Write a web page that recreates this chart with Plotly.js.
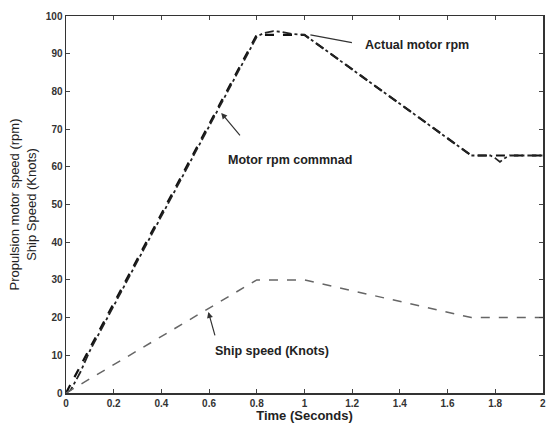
<!DOCTYPE html>
<html><head><meta charset="utf-8">
<script src="https://cdn.plot.ly/plotly-3.0.1.min.js"></script>
<style>html,body{margin:0;padding:0;background:#fff}#chart{width:546px;height:430px}</style>
</head><body><div id="chart"></div>
<script>
const cmdTime = [0, 0.8, 1.0, 1.7, 2.0];
const cmdRpm = [0, 95, 95, 63, 63];
const actTime = [0, 0.02, 0.06, 0.1, 0.8, 0.83, 0.87, 0.9, 0.95, 1.0, 1.7, 1.78, 1.8, 1.82, 1.84, 1.86, 2.0];
const actRpm = [0, 0.8, 5.5, 11.2, 94.5, 95.5, 96, 95.8, 95.2, 95, 63, 63, 62.3, 61.3, 62.3, 63, 63];
const shipTime = [0, 0.8, 1.0, 1.7, 2.0];
const shipSpeed = [0, 30, 30, 20, 20];
const xTicks = [0, 0.2, 0.4, 0.6, 0.8, 1, 1.2, 1.4, 1.6, 1.8, 2];
const xTickText = ['0', '0.2', '0.4', '0.6', '0.8', '1', '1.2', '1.4', '1.6', '1.8', '2'];
const yTicks = [0, 10, 20, 30, 40, 50, 60, 70, 80, 90, 100];

const labels = ['Actual motor rpm', 'Motor rpm commnad', 'Ship speed (Knots)'];
const labelX = [1.47, 0.941, 0.866];
const labelY = [92.3, 61.8, 11.1];
const arrowX = [1.025, 0.651, 0.597];
const arrowY = [95.0, 74.3, 21.5];
const arrowAx = [43, 20, 7];
const arrowAy = [8, 24, 25];
const arrowHead = [0, 2, 2];

const traces = [
  {x: cmdTime, y: cmdRpm, mode: 'lines', line: {color: '#111', width: 2.2, dash: 'dash'}, hoverinfo: 'skip'},
  {x: actTime, y: actRpm, mode: 'lines', line: {color: '#222', width: 1.8, dash: 'dashdot'}, hoverinfo: 'skip'},
  {x: shipTime, y: shipSpeed, mode: 'lines', line: {color: '#666', width: 1.5, dash: 'dash'}, hoverinfo: 'skip'}
];

const ann = [];
for (let i = 0; i < labels.length; i++) {
  ann.push({x: labelX[i], y: labelY[i], xref: 'x', yref: 'y', text: '<b>' + labels[i] + '</b>', showarrow: false,
    font: {family: 'Liberation Sans, Arial, sans-serif', size: 12.5, color: '#222'}});
  ann.push({x: arrowX[i], y: arrowY[i], xref: 'x', yref: 'y', text: '', showarrow: true, ax: arrowAx[i], ay: arrowAy[i],
    arrowhead: arrowHead[i], arrowsize: 1, arrowwidth: 1.2, arrowcolor: '#333'});
}

const axisCommon = {showgrid: false, zeroline: false, showline: true, linecolor: '#333', linewidth: 1.5,
  mirror: 'allticks', ticks: 'inside', ticklen: 4, tickcolor: '#444', ticklabeloverflow: 'allow',
  tickfont: {family: 'Liberation Sans, Arial, sans-serif', size: 10, color: '#333', weight: 'bold'}};

const layout = {
  width: 546, height: 430,
  margin: {l: 66, r: 3, t: 16, b: 37},
  paper_bgcolor: '#fff', plot_bgcolor: '#fff',
  showlegend: false,
  xaxis: Object.assign({}, axisCommon, {range: [0, 2.0005], tickvals: xTicks, ticktext: xTickText,
    title: {text: '<b>Time (Seconds)</b>', standoff: 2, font: {family: 'Liberation Sans, Arial, sans-serif', size: 13, color: '#222'}}}),
  yaxis: Object.assign({}, axisCommon, {range: [0, 100], tickvals: yTicks,
    title: {text: 'Propulsion motor speed (rpm)<br>Ship Speed (Knots)', standoff: 6, font: {family: 'Liberation Sans, Arial, sans-serif', size: 13, color: '#222'}}}),
  annotations: ann
};

Plotly.newPlot('chart', traces, layout, {staticPlot: true, displayModeBar: false});
</script></body></html>
